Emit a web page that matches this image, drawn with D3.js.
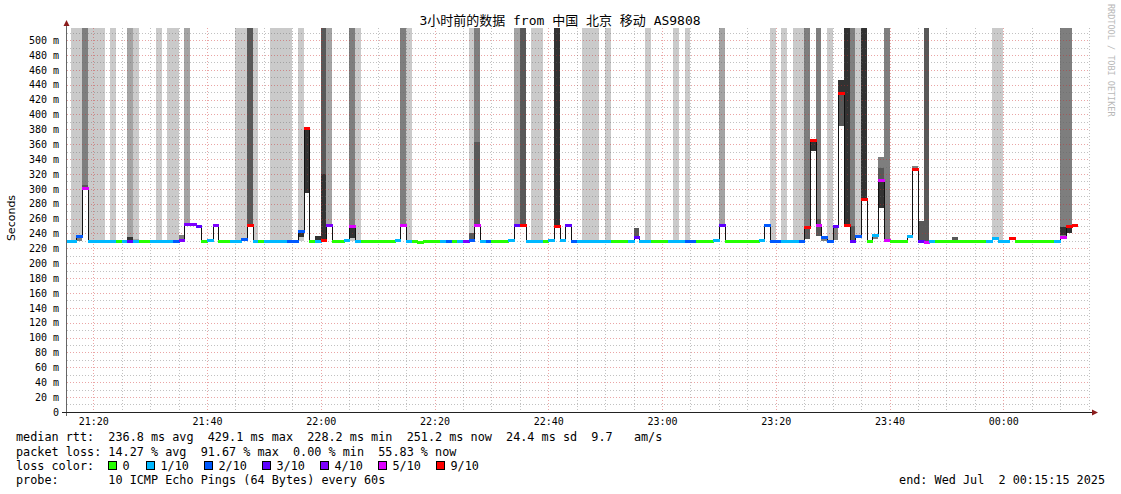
<!DOCTYPE html>
<html><head><meta charset="utf-8">
<script src="https://cdn.jsdelivr.net/npm/d3@7/dist/d3.min.js"></script>
<style>
html,body{margin:0;padding:0;background:#fff;}
svg text{white-space:pre;}
</style>
</head><body>
<svg id="chart" width="1121" height="494"></svg>
<script>
// ---------------- DATA ----------------
// one slot per minute, slot s covers 21:15+s .. 21:16+s (clipped to the graph range)
const medianMs = [
 229.5,229.5,236.5,300.6,229.5,229.5,229.5,229.5,229.5,229.8,
 229.5,229.5,229.5,229.8,229.8,229.5,229.5,229.5,229.5,229.5,
 231.5,252.6,252.6,249.5,229.8,231.5,251.0,229.8,229.8,229.5,
 229.5,232.0,251.0,229.5,229.8,229.5,229.5,229.5,229.5,229.5,
 229.5,243.2,381.3,229.8,229.5,231.1,251.7,229.8,229.8,231.6,
 250.6,229.5,229.8,229.8,229.8,229.8,229.8,229.8,231.6,251.0,
 229.5,229.8,228.9,229.8,229.8,229.8,229.5,229.5,229.8,229.5,
 229.5,231.1,251.0,230.0,229.5,229.6,229.2,229.6,231.1,251.5,
 251.0,229.5,229.5,229.5,229.8,231.5,249.7,231.5,251.5,229.5,
 229.5,229.5,229.5,229.5,229.5,229.5,229.8,229.8,229.8,229.5,
 234.7,229.5,229.5,229.8,229.8,229.8,229.5,229.5,229.5,229.5,
 229.5,229.8,229.8,229.8,231.5,251.0,229.2,229.6,229.6,229.6,
 229.6,229.6,231.5,251.7,229.8,229.8,229.5,229.5,229.5,230.0,
 248.8,365.6,251.0,235.0,229.8,249.5,429.3,251.0,230.0,236.0,
 286.7,229.5,237.8,311.7,230.6,229.5,229.5,229.5,236.4,326.6,
 229.8,228.8,229.5,229.6,229.6,229.6,229.6,229.6,229.6,229.6,
 229.6,229.6,229.5,234.2,229.5,229.5,234.2,229.6,229.6,229.6,
 229.6,229.6,229.6,229.6,229.5,235.4,249.9,251.2,null,null,null
];
const lossCount = [
 1,1,2,5,1,1,1,1,1,0,
 1,3,1,0,0,1,1,1,1,2,
 4,4,4,3,0,1,4,0,0,1,
 1,2,9,1,0,1,1,1,1,2,
 2,2,9,0,1,9,4,0,0,1,
 5,1,0,0,0,0,0,0,1,5,
 1,0,0,0,0,0,1,2,0,1,
 4,2,5,1,2,0,0,0,1,3,
 9,1,1,1,0,1,9,1,3,2,
 1,1,1,1,1,1,0,0,0,1,
 3,1,1,0,0,0,1,1,1,2,
 2,0,0,0,1,3,0,0,0,0,
 0,0,1,2,2,2,1,1,1,2,
 9,9,5,2,2,3,9,9,3,2,
 9,0,1,5,5,0,0,0,1,9,
 3,5,1,0,0,0,0,0,0,0,
 0,0,1,1,1,1,9,0,0,0,
 0,0,0,0,1,5,9,9,null,null,null
];
// full-height smoke columns (lost pings): [slot, shade band, lower end in ms (default = median)]
const lossColumns = [
 [1,1],[2,1],[3,3,305],[4,1],[5,1],[6,1],[8,1],[11,2],[12,1],[16,1],[18,1],[19,1],[21,2],
 [30,1],[31,1],[32,4],[33,1],[36,1],[37,1],[38,1],[39,1],[41,1],[45,4,320],[46,2],[50,3],[51,1],
 [59,3],[60,1],[71,1],[72,3,363],[79,2],[80,4],[82,1],[83,1],[86,5],[91,1],[92,1],[93,1],[95,1],
 [102,1],[107,1],[109,1],[115,2],[124,1],[126,1],[128,1],[129,1],[130,3,232],[132,3,260],[134,1],
 [137,5],[138,3,249.5],[139,1],[140,5],[144,3],[151,4],[163,1],[164,1],[175,3],[176,3]
];
// smoke between ping values: [slot, low ms, high ms, shade band]
const smokeBands = [
 [2,229.5,235,3],[3,300.6,305,4],[11,230,235.5,5],[12,229.5,232,2],[20,232,237.5,3],
 [25,229.5,231.5,2],[31,229.5,231,3],[41,229.5,235,1],[41,235,242,5],[42,294,379,5],
 [44,231,237,5],[45,231,320,5],[49,229.5,231.6,2],[50,229.5,234.5,1],[50,234.5,249,5],
 [71,233,240,4],[72,251,363,4],[78,229.5,231,2],[87,229.5,231.5,2],[100,235.5,247,4],
 [114,229.5,231.5,2],[122,229.5,231.5,2],[130,232,246,4],[131,351,367,5],[132,236,260,4],
 [133,229.5,234,3],[135,231,247,3],[135,247,250.5,5],[136,385,429.3,4],[136,429.3,446,5],
 [138,230,249.5,4],[142,232,235.5,3],[143,274,310,5],[143,310,327.6,4],[143,327.6,343.3,3],
 [149,326,331,3],[150,231,256.6,4],[156,231,234.7,4],[175,238,249,5],[176,240,250,5]
];
const bandGray = [202,164,126,88,50];
const lossClasses = [0,1,2,3,4,5,9];
const lossLabels = ["0","1/10","2/10","3/10","4/10","5/10","9/10"];
const lossColors = ["#26ff00","#00b8ff","#0059ff","#5e00ff","#7e00ff","#dd00ff","#ff0000"];
const yTicks = d3.range(0, 501, 20);
const titleText = "3小时前的数据 from 中国 北京 移动 AS9808";
const statLines = [
 "median rtt:  236.8 ms avg  429.1 ms max  228.2 ms min  251.2 ms now  24.4 ms sd  9.7   am/s",
 "packet loss: 14.27 % avg  91.67 % max  0.00 % min  55.83 % now",
 "loss color:",
 "probe:       10 ICMP Echo Pings (64 Bytes) every 60s"
];
const endText = "end: Wed Jul  2 00:15:15 2025";

// ---------------- CHART ----------------
const START = Date.UTC(2025,6,1,21,15,15), END = Date.UTC(2025,6,2,0,15,15);
const slotT = s => Date.UTC(2025,6,1,21,15+s,0);
const x = d3.scaleUtc().domain([START, END]).range([66.3, 1090]);
const y = d3.scaleLinear().domain([0, 516.3]).range([411.9, 28]);
const sx0 = s => x(Math.max(START, slotT(s)));
const sx1 = s => x(Math.min(END, slotT(s+1)));
const svg = d3.select("#chart");
const gray = b => { const v = bandGray[b-1]; return `rgb(${v},${v},${v})`; };
const mono = "'DejaVu Sans Mono', monospace";
const px = v => Math.round(v);

// columns
svg.append("g").selectAll("rect").data(lossColumns).join("rect")
  .attr("x", d => px(sx0(d[0]))).attr("width", d => px(sx1(d[0])) - px(sx0(d[0])))
  .attr("y", px(y(516.3)))
  .attr("height", d => px(y(d[2] !== undefined ? d[2] : medianMs[d[0]])) - px(y(516.3)))
  .attr("fill", d => gray(d[1])).attr("shape-rendering","crispEdges");
// smoke bands
svg.append("g").selectAll("rect").data(smokeBands).join("rect")
  .attr("x", d => px(sx0(d[0]))).attr("width", d => px(sx1(d[0])) - px(sx0(d[0])))
  .attr("y", d => px(y(d[2]))).attr("height", d => Math.max(1, px(y(d[1])) - px(y(d[2]))))
  .attr("fill", d => gray(d[3])).attr("shape-rendering","crispEdges");

// grid (semi-transparent, drawn over the smoke like rrdtool)
const minorCol = "rgba(100,100,100,0.4)", majorCol = "rgba(205,40,40,0.42)";
const grid = svg.append("g").attr("shape-rendering","crispEdges");
d3.range(10, 516, 10).forEach(v => {
  const yy = px(y(v)) + 0.5;
  grid.append("line").attr("x1", 67).attr("x2", 1090).attr("y1", yy).attr("y2", yy)
    .attr("stroke", v % 20 === 0 ? majorCol : minorCol).attr("stroke-dasharray","1,2");
});
d3.utcMinute.every(5).range(new Date(START), new Date(END + 1000)).forEach(t => {
  const xx = px(x(t)) + 0.5;
  const major = t.getUTCMinutes() % 20 === 0;
  grid.append("line").attr("x1", xx).attr("x2", xx).attr("y1", 28).attr("y2", 412)
    .attr("stroke", major ? majorCol : minorCol).attr("stroke-dasharray","1,2");
});

// median step line (dark), broken where there is no data
const pts = [];
medianMs.forEach((m, s) => {
  if (m === null) { pts.push(null); return; }
  pts.push({x: sx0(s), v: m});
  if (s === medianMs.length - 1 || medianMs[s+1] === null) pts.push({x: sx1(s), v: m});
});
const stepLine = d3.line().defined(d => d !== null)
  .x(d => px(d.x) + 0.5).y(d => px(y(d.v)) + 0.5).curve(d3.curveStepAfter);
svg.append("path").attr("d", stepLine(pts)).attr("fill","none")
  .attr("stroke","#111").attr("stroke-width",1).attr("shape-rendering","crispEdges");

// loss-coloured median segments
const segs = medianMs.map((m, s) => ({s, m, l: lossCount[s]})).filter(d => d.m !== null);
svg.append("g").selectAll("line").data(segs).join("line")
  .attr("x1", d => px(sx0(d.s))).attr("x2", d => px(sx1(d.s)) + 1)
  .attr("y1", d => px(y(d.m)) + 0.5).attr("y2", d => px(y(d.m)) + 0.5)
  .attr("stroke", d => lossColors[lossClasses.indexOf(d.l)]).attr("stroke-width", 3)
  .attr("shape-rendering","crispEdges");

// axes
const yAxis = svg.append("g").attr("transform","translate(66,0)")
  .call(d3.axisLeft(y).tickValues(yTicks).tickFormat(d => d === 0 ? "0" : d + " m").tickSize(0).tickPadding(7));
yAxis.select(".domain").remove();
yAxis.selectAll("text").attr("font-family", mono).attr("font-size", 10).attr("fill","#000");
const xAxis = svg.append("g").attr("transform","translate(0,412)")
  .call(d3.axisBottom(x).ticks(d3.utcMinute.every(20)).tickFormat(d3.utcFormat("%H:%M")).tickSize(0).tickPadding(6));
xAxis.select(".domain").remove();
xAxis.selectAll("text").attr("font-family", mono).attr("font-size", 10).attr("fill","#000");

svg.append("line").attr("x1",66.5).attr("x2",66.5).attr("y1",416).attr("y2",24)
  .attr("stroke","#666").attr("shape-rendering","crispEdges");
svg.append("line").attr("x1",62).attr("x2",1093).attr("y1",412.5).attr("y2",412.5)
  .attr("stroke","#222").attr("shape-rendering","crispEdges");
svg.append("path").attr("d","M63.5,26 L69.5,26 L66.5,20 Z").attr("fill","#8b1c1c");
svg.append("path").attr("d","M1092,409.5 L1092,415.5 L1098,412.5 Z").attr("fill","#8b1c1c");

// texts
svg.append("text").attr("x",560).attr("y",25).attr("text-anchor","middle")
  .attr("font-family","'DejaVu Sans Mono','Noto Sans CJK SC',monospace").attr("font-size",13)
  .text(titleText);
svg.append("text").attr("transform","translate(15,218) rotate(-90)").attr("text-anchor","middle")
  .attr("font-family","'DejaVu Sans',sans-serif").attr("font-size",11).text("Seconds");
svg.append("text").attr("transform","translate(1108,4) rotate(90)")
  .attr("font-family", mono).attr("font-size",8.5).attr("fill","#b8b8b8").text("RRDTOOL / TOBI OETIKER");

const rowY = [441, 455.5, 470, 484];
statLines.forEach((t,i) => svg.append("text").attr("x",16).attr("y",rowY[i])
  .attr("font-family", mono).attr("font-size",11.8).text(t));
const boxX = [108.5,146.5,204.5,262.5,320.5,378.5,436.5];
lossLabels.forEach((lab,i) => {
  svg.append("rect").attr("x",boxX[i]).attr("y",461.5).attr("width",8).attr("height",8)
    .attr("fill",lossColors[i]).attr("stroke","#000").attr("stroke-width",1);
  svg.append("text").attr("x",boxX[i]+14).attr("y",rowY[2])
    .attr("font-family", mono).attr("font-size",11.8).text(lab);
});
svg.append("text").attr("x",1105).attr("y",rowY[3]).attr("text-anchor","end")
  .attr("font-family", mono).attr("font-size",11.8).text(endText);
</script>
</body></html>
